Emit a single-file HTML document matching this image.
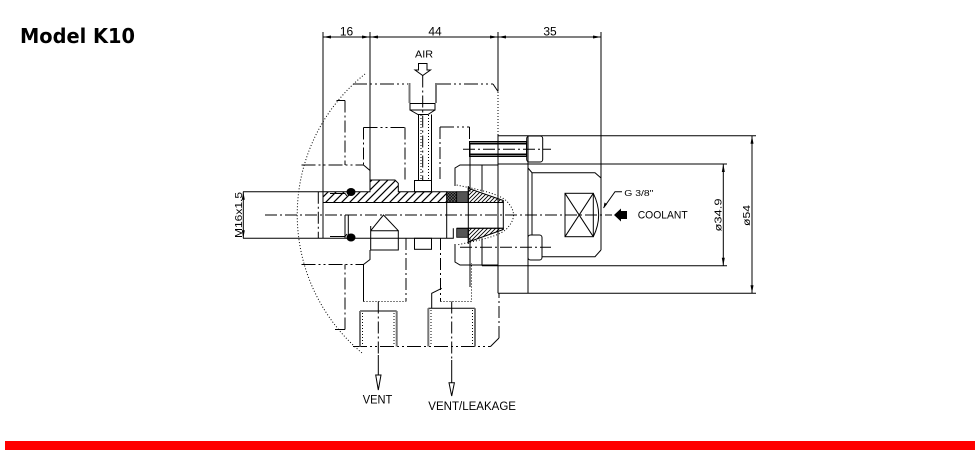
<!DOCTYPE html>
<html><head><meta charset="utf-8"><style>
html,body{margin:0;padding:0;background:#fff;}
svg{display:block;}
.s{stroke:#000;stroke-width:1;fill:none;}
.p{stroke:#000;stroke-width:1;fill:none;stroke-dasharray:14 3 2 3 2 3;}
.c{stroke:#000;stroke-width:1;fill:none;stroke-dasharray:12 3 2 3;}
.d{stroke:#000;stroke-width:1;fill:none;stroke-dasharray:1 2;}
.g{stroke:#777;stroke-width:2;fill:none;}
.a{fill:#000;stroke:none;}
text{font-family:"Liberation Sans",sans-serif;fill:#000;}
</style></head><body>
<svg width="978" height="457" viewBox="0 0 978 457" xmlns="http://www.w3.org/2000/svg">
<defs>
<pattern id="h" patternUnits="userSpaceOnUse" width="8" height="8"><path d="M-2 2 L2 -2 M0 8 L8 0 M6 10 L10 6" stroke="#000" stroke-width="1.2"/></pattern>
<pattern id="hs" patternUnits="userSpaceOnUse" width="4" height="4"><path d="M-1 1 L1 -1 M0 4 L4 0 M3 5 L5 3" stroke="#000" stroke-width="0.9"/></pattern>
<pattern id="x" patternUnits="userSpaceOnUse" width="3" height="3"><rect width="3" height="3" fill="#666"/><path d="M0 3 L3 0 M0 0 L3 3" stroke="#000" stroke-width="0.6"/></pattern>
</defs>
<rect width="978" height="457" fill="#fff"/>
<text x="20" y="43" font-weight="bold" font-size="20" textLength="115" lengthAdjust="spacingAndGlyphs" style="font-family:'DejaVu Sans',sans-serif">Model K10</text>
<rect x="5" y="441" width="970" height="9" fill="#ff0000"/>

<!-- top dimensions -->
<path class="s" d="M323 32 V238.3 M370 32 V180 M498 32 V91.5 M498 135 V293.3 M601 32 V250 M323 37 H601"/>
<path class="d" d="M498 92 V135"/>
<polygon class="a" points="323,37 331,35.5 331,38.5"/>
<polygon class="a" points="370,37 362,35.5 362,38.5"/>
<polygon class="a" points="370,37 378,35.5 378,38.5"/>
<polygon class="a" points="498,37 490,35.5 490,38.5"/>
<polygon class="a" points="498,37 506,35.5 506,38.5"/>
<polygon class="a" points="601,37 593,35.5 593,38.5"/>
<text x="346.5" y="35.5" font-size="12" text-anchor="middle">16</text>
<text x="435" y="35.5" font-size="12" text-anchor="middle">44</text>
<text x="550" y="35.5" font-size="12" text-anchor="middle">35</text>

<!-- big dotted arc -->
<path class="d" d="M365 74 A180 180 0 0 0 362 353"/>

<!-- top body phantom -->
<path class="p" d="M353 84 H408 M437 84 H493"/>
<path class="s" d="M493 84 L498 91.5"/>

<!-- left block top -->
<path class="s" d="M336.5 100.5 H345 M363.5 165 L370 170.5 V180"/>
<path class="c" d="M345 100.5 V165 M363.5 127.5 V165 M405 127.5 V180 M440 127 V180 M469.5 127 V141"/>
<path class="p" d="M301.5 165 H363.5 M363.5 127.5 H405 M440 127 H469.5"/>
<!-- left block bottom -->
<path class="s" d="M335 329.5 H345 M363.5 264.5 L370 259.5 V250 M363.5 264.5 V301.5"/>
<path class="c" d="M345 329.5 V264.5 M406 238 V301.5 M440.5 238 V301.5 M499 338 V293"/>
<path class="p" d="M301.5 264.5 H363.5 M353 346.5 H490.5"/>
<path class="d" d="M363.5 301.5 H406 M440.5 301.5 H471.5 V263"/>
<path class="s" d="M490.5 346.5 L499 338"/>

<!-- air fitting -->
<path class="s" d="M418.5 63.5 H427 V70 H430.5 L422.7 75.5 L415 70 H418.5 Z"/>
<text x="424" y="57.5" font-size="10" text-anchor="middle" textLength="18" lengthAdjust="spacingAndGlyphs">AIR</text>
<path class="c" d="M422.7 75.5 V180"/>
<path class="g" d="M409.5 83 V103 M436 83 V103"/>
<path class="s" d="M410 103.5 H435 V110 H410 Z M410 110 L418 114.5 H428 L435 110 M418.5 114.5 V180.5 M431.5 114.5 V180.5"/>
<path class="d" d="M421 115 V180 M428.5 115 V180"/>
<rect class="s" x="414.5" y="180.5" width="17" height="11.2"/>
<rect class="s" x="414.5" y="238.3" width="17" height="11"/>

<!-- hatched fitting -->
<path d="M323 191.7 H370 V180 H395 L398.3 183.3 V191.7 H446.7 V202.5 H323 Z" fill="url(#h)" stroke="#000" stroke-width="1"/>
<rect x="446.7" y="191.7" width="10" height="10.8" fill="url(#x)" stroke="#000" stroke-width="0.8"/>
<rect x="456.7" y="191.7" width="11.6" height="10.8" fill="#555" stroke="#000" stroke-width="0.8"/>
<rect x="456.7" y="228.3" width="11.6" height="9" fill="#555" stroke="#000" stroke-width="0.8"/>
<path d="M468.3 188.3 L503.3 200.5 V202.5 H468.3 Z" fill="url(#hs)" stroke="#000" stroke-width="1"/>
<path d="M468.3 228.3 H503.3 V229.5 L468.3 242 Z" fill="url(#hs)" stroke="#000" stroke-width="1"/>
<path class="s" d="M323 202.5 H503.3 V228.3 H456.7 M243 238.3 H453.3 V228.3 M243 191.7 H323 M446.7 202.5 V238.3 M468.3 186 V244"/>
<path class="s" d="M330 193.5 H345 L347 196 M330 236.5 H345 L347 234"/>
<path class="c" d="M318.3 191.7 V238.3"/>
<ellipse cx="351" cy="192" rx="4.5" ry="4" fill="#000"/>
<ellipse cx="351" cy="237.5" rx="4.5" ry="4" fill="#000"/>
<path class="s" d="M345 215 V238 M348.3 215 V238"/>
<path class="s" d="M370.7 226 V250 H398.3 V230.7 H370.7 M370.7 230.7 L383.5 215 L398.3 230.7"/>
<path class="d" d="M456.7 185 C480 190 503 194 509 204 C515 211 515 219 509 226 C503 236 480 240 456.7 245"/>

<!-- hex pieces near flange -->
<path class="s" d="M455 186 V168 L460 165 H498 M470 143 V191.7 M482 165 V191.7 M455 244 V262 L460 265 H498 M470 238.3 V287 M482 238.3 V265.7"/>

<!-- bolts -->
<rect class="s" x="469.5" y="141.5" width="57" height="15"/>
<path stroke="#000" stroke-width="2" d="M470 143.5 H526.5 M470 154.5 H526.5"/>
<rect class="s" x="526.7" y="136" width="16" height="26" rx="2.5"/>
<path class="c" d="M463 149.3 H551"/>
<rect class="s" x="528" y="235" width="14" height="25" rx="2.5"/>
<path class="c" d="M460 247.3 H551"/>

<!-- flange + ext lines -->
<path class="s" d="M498 135.7 H756 M498 293.3 H756 M528 135.7 V293.3 M498 164 H727 M482 265.7 H727"/>

<!-- hex nut -->
<path class="s" d="M528 168 L532 172.7 H595 L601 178 M532 172.7 V235 M542 256.7 H595 L601 250"/>
<rect class="s" x="565" y="193.3" width="28.3" height="43.4"/>
<path class="s" d="M565 193.3 L593.3 236.7 M593.3 193.3 L565 236.7 M593.3 193.3 Q604 215 593.3 236.7"/>
<path class="s" d="M603.5 208 L615 191.7 H622"/>
<polygon class="a" points="603.5,208 604.5,202.5 607,204.3"/>
<text x="624.3" y="196" font-size="8.5" textLength="29" lengthAdjust="spacingAndGlyphs">G 3/8&quot;</text>
<polygon class="a" points="614,215 621,208.5 621,211 627,211 627,219 621,219 621,221.5"/>
<text x="637.7" y="218.5" font-size="11" textLength="50" lengthAdjust="spacingAndGlyphs">COOLANT</text>

<!-- center line -->
<path class="c" d="M265 215 H612"/>

<!-- right dims -->
<path class="s" d="M723.3 164 V265.7 M752 135.7 V293.3"/>
<polygon class="a" points="723.3,164 721.8,172 724.8,172"/>
<polygon class="a" points="723.3,265.7 721.8,257.7 724.8,257.7"/>
<polygon class="a" points="752,135.7 750.5,143.7 753.5,143.7"/>
<polygon class="a" points="752,293.3 750.5,285.3 753.5,285.3"/>
<text transform="translate(721.5,215) rotate(-90)" font-size="10" text-anchor="middle" textLength="33" lengthAdjust="spacingAndGlyphs">ø34.9</text>
<text transform="translate(750,215.5) rotate(-90)" font-size="10" text-anchor="middle" textLength="21" lengthAdjust="spacingAndGlyphs">ø54</text>

<!-- M16 dim -->
<path class="s" d="M243.3 191.7 V238.3"/>
<polygon class="a" points="243.3,191.7 241.8,199.7 244.8,199.7"/>
<polygon class="a" points="243.3,238.3 241.8,230.3 244.8,230.3"/>
<text transform="translate(242,215) rotate(-90)" font-size="10.5" text-anchor="middle" textLength="46" lengthAdjust="spacingAndGlyphs">M16x1.5</text>

<!-- vents -->
<path class="s" d="M360 311 H396.7 M428.3 308.3 H475 M431.7 308.3 V293.3 L441.7 288.3"/>
<path class="g" d="M360 311 V346.5 M396.7 311 V346.5 M428.3 308.3 V346.5 M475 308.3 V346.5"/>
<path class="d" d="M362.5 313 V346 M394 313 V346 M431 310 V346 M472.5 310 V346"/>
<path class="c" d="M378.3 301.5 V355 M451.7 301.5 V360"/>
<path class="s" d="M378.3 355 V375 M375.7 375 H381 L378.3 390 Z M451.7 360 V382.7 M449 382.7 H454.4 L451.7 396 Z"/>
<text x="362.7" y="403.3" font-size="11.5" textLength="29.6" lengthAdjust="spacingAndGlyphs">VENT</text>
<text x="428.3" y="410" font-size="11.5" textLength="87.7" lengthAdjust="spacingAndGlyphs">VENT/LEAKAGE</text>
</svg>
</body></html>
